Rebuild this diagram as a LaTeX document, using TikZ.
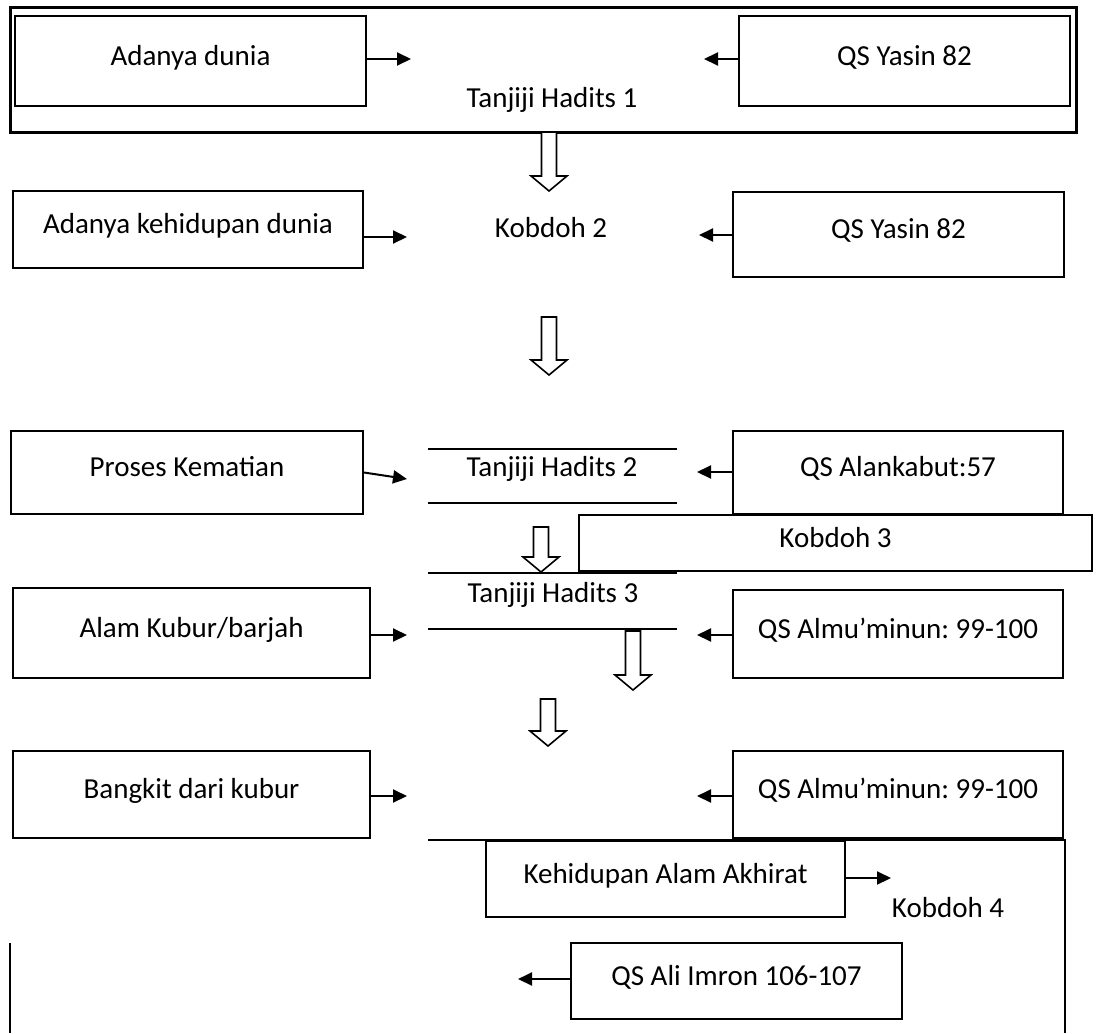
\documentclass[tikz,border=0pt]{standalone}
\usepackage{fontspec}
\setmainfont{Carlito}
\usetikzlibrary{arrows.meta}
\frenchspacing

% big hollow arrow pointing down: x, top, tip
\newcommand{\hollowdown}[3]{%
  \draw[hollow] (#1-7.5,#2) -- (#1+7.5,#2) -- (#1+7.5,#3-15) -- (#1+18,#3-15)
    -- (#1,#3) -- (#1-18,#3-15) -- (#1-7.5,#3-15) -- cycle;}

\begin{document}
\begin{tikzpicture}[x=0.5pt, y=-0.5pt,
  font=\fontsize{14.5}{17}\selectfont,
  box/.style={draw, line width=1pt, fill=white, inner sep=0pt,
    text height=10pt, text depth=6pt},
  boxsize/.style 2 args={minimum width=#1*0.5pt, minimum height=#2*0.5pt},
  lbl/.style={inner sep=1pt},
  arr/.style={line width=1pt, -{Triangle[length=7pt,width=6.5pt]}},
  rule/.style={line width=1.4pt},
  hollow/.style={line width=0.8pt, fill=white, line join=miter}]
\useasboundingbox (0,0) rectangle (1097,1033);

% Tanjiji Hadits 1
\node[draw, line width=1.5pt, inner sep=0pt, boxsize={1066}{125}] (frame) at (543,69.5) {};
\node[box, boxsize={351}{90}] (dunia) at (190.5,61) {Adanya dunia};
\node[box, boxsize={331}{90}] (yasin1) at (904.5,61) {QS Yasin 82};
\node[lbl] (tanjiji1) at (552,100) {Tanjiji Hadits 1};
\coordinate (t1l) at (411,59);
\coordinate (t1r) at (704,59);
\draw[arr] (dunia.east |- t1l) -- (t1l);
\draw[arr] (yasin1.west |- t1r) -- (t1r);
\hollowdown{549}{132}{191}

% Kobdoh 2
\node[box, boxsize={350}{77}] (kehidupan) at (188,229.5) {Adanya kehidupan dunia};
\node[box, boxsize={331}{85}] (yasin2) at (898.5,234.5) {QS Yasin 82};
\node[lbl] (kobdoh2) at (551,228) {Kobdoh 2};
\coordinate (k2l) at (407,237);
\coordinate (k2r) at (699,235);
\draw[arr] (kehidupan.east |- k2l) -- (k2l);
\draw[arr] (yasin2.west |- k2r) -- (k2r);
\hollowdown{549}{317}{375}

% Tanjiji Hadits 2
\node[box, boxsize={352}{83}] (proses) at (187,472.5) {Proses Kematian};
\node[box, boxsize={330}{83}] (alankabut) at (898,472.5) {QS Alankabut:57};
\draw[rule] (428,449) -- (677,449);
\draw[rule] (428,503) -- (677,503);
\node[lbl] (tanjiji2) at (552,469) {Tanjiji Hadits 2};
\coordinate (t2l) at (407,479);
\coordinate (t2r) at (697,472);
\draw[arr] (proses.east) -- (t2l);
\draw[arr] (alankabut.west |- t2r) -- (t2r);

% Kobdoh 3
\node[box, boxsize={513}{56}] (kobdoh3) at (835.5,543) {Kobdoh 3};
\hollowdown{541}{527}{572}

% Tanjiji Hadits 3
\draw[rule] (428,573) -- (677,573);
\draw[rule] (428,629) -- (677,629);
\node[lbl] (tanjiji3) at (553,595) {Tanjiji Hadits 3};
\node[box, boxsize={357}{90}] (kubur) at (191.5,633) {Alam Kubur/barjah};
\node[box, boxsize={330}{88}] (muminun1) at (898,634) {QS Almu’minun: 99-100};
\coordinate (t3l) at (407,635);
\coordinate (t3r) at (697,635);
\draw[arr] (kubur.east |- t3l) -- (t3l);
\draw[arr] (muminun1.west |- t3r) -- (t3r);
\hollowdown{633}{631}{690}
\hollowdown{548}{699}{746}

% Bangkit
\node[box, boxsize={357}{87}] (bangkit) at (191.5,794.5) {Bangkit dari kubur};
\node[box, boxsize={330}{87}] (muminun2) at (898,794.5) {QS Almu’minun: 99-100};
\coordinate (bkl) at (407,796);
\coordinate (bkr) at (697,796);
\draw[arr] (bangkit.east |- bkl) -- (bkl);
\draw[arr] (muminun2.west |- bkr) -- (bkr);

% Kobdoh 4
\draw[rule] (428,840) -- (1065,840) -- (1065,1033);
\draw[rule] (10,943) -- (10,1033);
\node[box, boxsize={359}{76}] (akhirat) at (665.5,879) {Kehidupan Alam Akhirat};
\node[lbl] (kobdoh4) at (948,908) {Kobdoh 4};
\node[box, boxsize={331}{76}] (imron) at (736.5,981) {QS Ali Imron 106-107};
\coordinate (k4r) at (891,878);
\coordinate (k4l) at (518,979);
\draw[arr] (akhirat.east |- k4r) -- (k4r);
\draw[arr] (imron.west |- k4l) -- (k4l);
\end{tikzpicture}
\end{document}
